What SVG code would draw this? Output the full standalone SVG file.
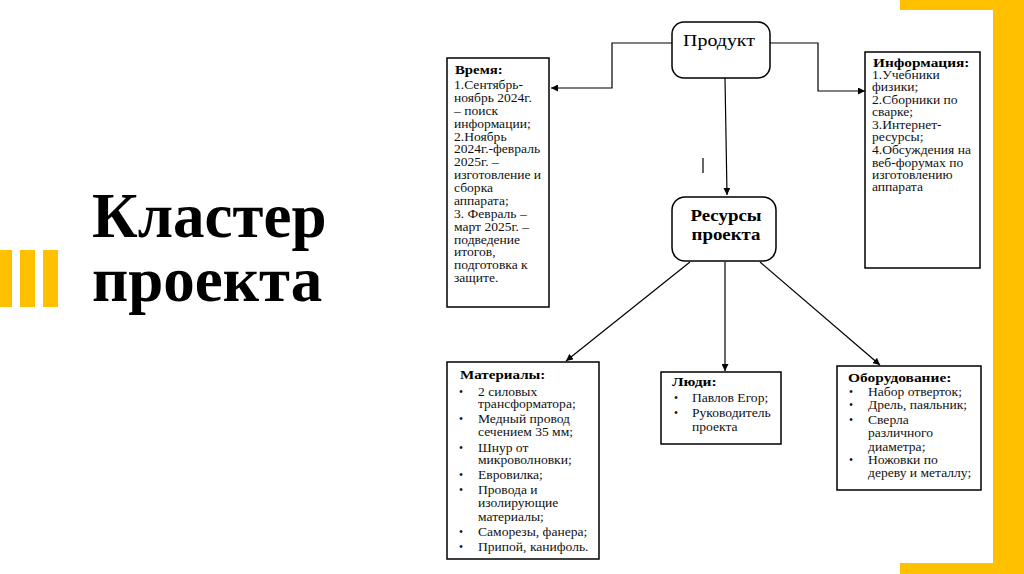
<svg xmlns="http://www.w3.org/2000/svg" width="1024" height="574" viewBox="0 0 1024 574">
<defs>
<marker id="ah" viewBox="0 0 10 10" refX="10" refY="5" markerWidth="7" markerHeight="7" markerUnits="userSpaceOnUse" orient="auto"><path d="M0,0 L10,5 L0,10 z" fill="#000"/></marker>
<style>
.box{fill:#fff;stroke:#000;stroke-width:1.5}
.t{font-family:"Liberation Serif","DejaVu Serif",serif;font-size:11.5px;fill:#111}
.h{font-family:"Liberation Serif","DejaVu Serif",serif;font-size:13px;font-weight:bold;fill:#000}
.c{fill:none;stroke:#000;stroke-width:1.2}
.y{fill:#FFC000}
</style>
</defs>
<rect width="1024" height="574" fill="#fff"/>
<g id="decor">
<rect class="y" x="900" y="0" width="124" height="10"/>
<rect class="y" x="993" y="0" width="31" height="574"/>
<rect class="y" x="900" y="563" width="124" height="11"/>
<rect class="y" x="0" y="250" width="12" height="57"/>
<rect class="y" x="20" y="250" width="15" height="57"/>
<rect class="y" x="43" y="250" width="15" height="57"/>
</g>
<g id="title" font-family="Liberation Serif, serif" font-weight="bold" font-size="63" fill="#000">
<text x="92" y="237">Кластер</text>
<text x="92" y="301">проекта</text>
</g>
<g id="connectors">
<polyline class="c" points="672,43 612,43 612,88 551,88" marker-end="url(#ah)"/>
<polyline class="c" points="770,43 818,43 818,91 865,91" marker-end="url(#ah)"/>
<line class="c" x1="725" y1="78" x2="727" y2="195" marker-end="url(#ah)"/>
<line class="c" x1="703" y1="158" x2="703" y2="173"/>
<line class="c" x1="690" y1="262" x2="566" y2="361" marker-end="url(#ah)"/>
<line class="c" x1="725" y1="262" x2="725" y2="371" marker-end="url(#ah)"/>
<line class="c" x1="760" y1="262" x2="880" y2="365" marker-end="url(#ah)"/>
</g>
<g id="product">
<rect class="box" x="672" y="22" width="98" height="56" rx="12"/>
<g transform="translate(719,46) scale(1.17,1)"><text x="0" y="0" text-anchor="middle" font-family="Liberation Serif, serif" font-size="17" fill="#000">Продукт</text></g>
</g>
<g id="resources">
<rect class="box" x="672" y="197" width="104" height="64" rx="13"/>
<g transform="translate(726,0) scale(1.18,1)" font-family="Liberation Serif, serif" font-size="16" font-weight="bold" fill="#000" text-anchor="middle">
<text x="0" y="221">Ресурсы</text>
<text x="0" y="240">проекта</text>
</g>
</g>
<g id="time">
<rect class="box" x="447" y="58" width="102" height="249"/>
<g transform="translate(455,0) scale(1.14,1)"><text class="h" x="0" y="74">Время:</text></g>
<g transform="translate(454,0) scale(1.18,1)" class="t">
<text x="0" y="89">1.Сентябрь-</text>
<text x="0" y="102">ноябрь 2024г.</text>
<text x="0" y="115">– поиск</text>
<text x="0" y="128">информации;</text>
<text x="0" y="141">2.Ноябрь</text>
<text x="0" y="153">2024г.-февраль</text>
<text x="0" y="166">2025г. –</text>
<text x="0" y="179">изготовление и</text>
<text x="0" y="192">сборка</text>
<text x="0" y="205">аппарата;</text>
<text x="0" y="218">3. Февраль –</text>
<text x="0" y="231">март 2025г. –</text>
<text x="0" y="244">подведение</text>
<text x="0" y="256">итогов,</text>
<text x="0" y="269">подготовка к</text>
<text x="0" y="282">защите.</text>
</g>
</g>
<g id="info">
<rect class="box" x="865" y="52" width="115" height="216"/>
<g transform="translate(873,0) scale(1.18,1)"><text class="h" x="0" y="67" font-size="14">Информация:</text></g>
<g transform="translate(872,0) scale(1.18,1)" class="t">
<text x="0" y="79">1.Учебники</text>
<text x="0" y="91">физики;</text>
<text x="0" y="104">2.Сборники по</text>
<text x="0" y="116">сварке;</text>
<text x="0" y="129">3.Интернет-</text>
<text x="0" y="141">ресурсы;</text>
<text x="0" y="154">4.Обсуждения на</text>
<text x="0" y="167">веб-форумах по</text>
<text x="0" y="179">изготовлению</text>
<text x="0" y="191">аппарата</text>
</g>
</g>
<g id="materials">
<rect class="box" x="447" y="362" width="152" height="197"/>
<g transform="translate(460,0) scale(1.16,1)"><text class="h" x="0" y="379">Материалы:</text></g>
<g class="t">
<text x="459" y="396">•</text><text x="459" y="423">•</text><text x="459" y="452">•</text><text x="459" y="479">•</text><text x="459" y="494">•</text><text x="459" y="536">•</text><text x="459" y="551">•</text>
</g>
<g transform="translate(478,0) scale(1.18,1)" class="t">
<text x="0" y="396">2 силовых</text>
<text x="0" y="408">трансформатора;</text>
<text x="0" y="423">Медный провод</text>
<text x="0" y="436">сечением 35 мм;</text>
<text x="0" y="452">Шнур от</text>
<text x="0" y="464">микроволновки;</text>
<text x="0" y="479">Евровилка;</text>
<text x="0" y="494">Провода и</text>
<text x="0" y="507">изолирующие</text>
<text x="0" y="521">материалы;</text>
<text x="0" y="536">Саморезы, фанера;</text>
<text x="0" y="551">Припой, канифоль.</text>
</g>
</g>
<g id="people">
<rect class="box" x="661" y="372" width="120" height="72"/>
<g transform="translate(672,0) scale(1.2,1)"><text class="h" x="0" y="386">Люди:</text></g>
<g class="t"><text x="674" y="402">•</text><text x="674" y="417">•</text></g>
<g transform="translate(692,0) scale(1.18,1)" class="t">
<text x="0" y="402">Павлов Егор;</text>
<text x="0" y="417">Руководитель</text>
<text x="0" y="431">проекта</text>
</g>
</g>
<g id="equipment">
<rect class="box" x="837" y="366" width="144" height="124"/>
<g transform="translate(848,0) scale(1.19,1)"><text class="h" x="0" y="382">Оборудование:</text></g>
<g class="t"><text x="849" y="396">•</text><text x="849" y="409">•</text><text x="849" y="424">•</text><text x="849" y="464">•</text></g>
<g transform="translate(868,0) scale(1.18,1)" class="t">
<text x="0" y="396">Набор отверток;</text>
<text x="0" y="409">Дрель, паяльник;</text>
<text x="0" y="424">Сверла</text>
<text x="0" y="437">различного</text>
<text x="0" y="451">диаметра;</text>
<text x="0" y="464">Ножовки по</text>
<text x="0" y="477">дереву и металлу;</text>
</g>
</g>
</svg>
